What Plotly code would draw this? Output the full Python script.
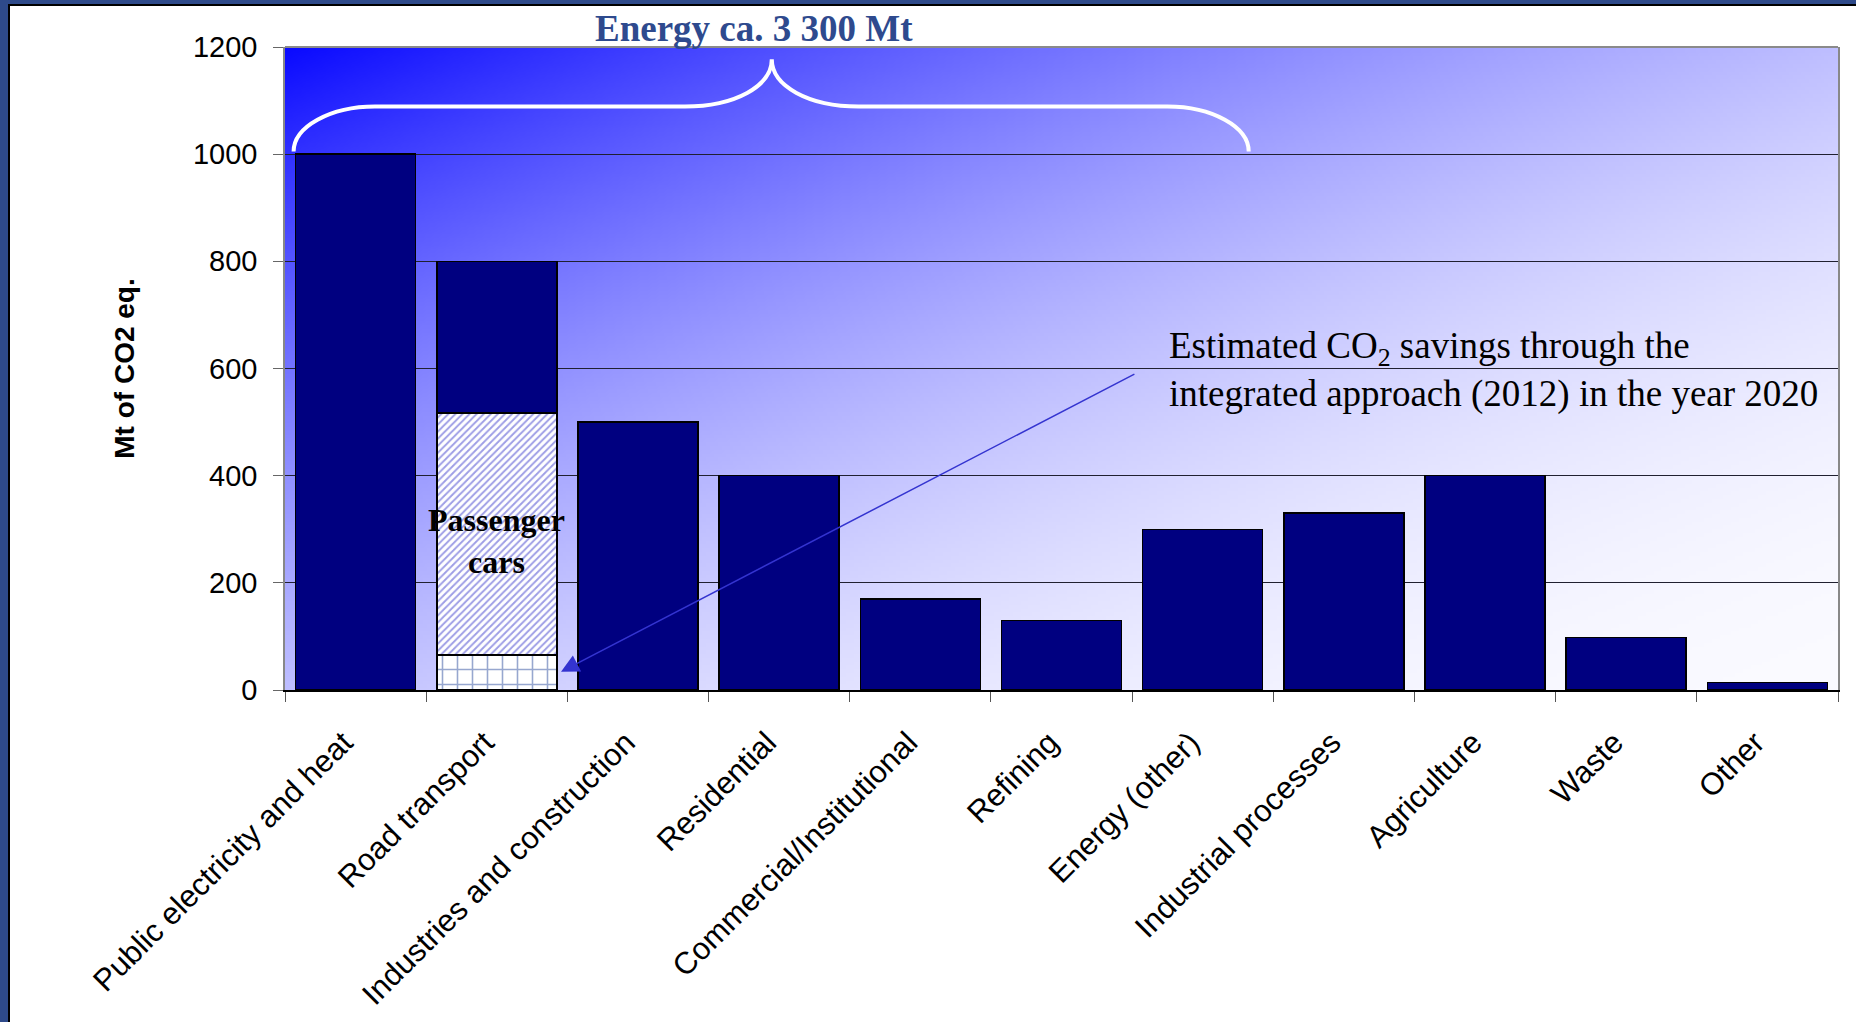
import base64
import struct
import zlib

import plotly.graph_objects as go

# --- data -------------------------------------------------------------------
categories = [
    "Public electricity and heat",
    "Road transport",
    "Industries and construction",
    "Residential",
    "Commercial/Institutional",
    "Refining",
    "Energy (other)",
    "Industrial processes",
    "Agriculture",
    "Waste",
    "Other",
]
emissions = [1000, 800, 500, 400, 170, 130, 300, 330, 400, 98, 14]  # Mt CO2 eq.
passenger_cars = 517          # part of road transport (includes the savings block)
co2_savings_2020 = 65         # estimated savings of the integrated approach
y_ticks = [0, 200, 400, 600, 800, 1000, 1200]

road = categories.index("Road transport")
upper_values = list(emissions)
upper_values[road] = emissions[road] - passenger_cars

# --- page geometry ------------------------------------------------------------
W, H = 1856, 1022
M_L, M_R, M_T, M_B = 285, 18, 47, 332
PW, PH = W - M_L - M_R, H - M_T - M_B


def px_x(px):
    return (px - M_L) / PW


def px_y(py):
    return 1 - (py - M_T) / PH


# --- diagonal blue-to-white plot background as an inline PNG -----------------
def gradient_png(w, h):
    raw = bytearray()
    for j in range(h):
        raw.append(0)
        v = j / (h - 1)
        for i in range(w):
            u = i / (w - 1)
            t = (u + v) / 2
            c = int(round(10 + 240 * (1 - (1 - t) ** 2)))
            raw.extend((c, c, 255))

    def chunk(tag, data):
        body = tag + data
        return struct.pack(">I", len(data)) + body + struct.pack(">I", zlib.crc32(body) & 0xFFFFFFFF)

    png = (b"\x89PNG\r\n\x1a\n"
           + chunk(b"IHDR", struct.pack(">IIBBBBB", w, h, 8, 2, 0, 0, 0))
           + chunk(b"IDAT", zlib.compress(bytes(raw), 9))
           + chunk(b"IEND", b""))
    return "data:image/png;base64," + base64.b64encode(png).decode()


NAVY = "#000080"
OUTLINE = dict(color="black", width=1.5)

fig = go.Figure()
fig.add_trace(go.Bar(
    x=[categories[road]], y=[co2_savings_2020],
    marker=dict(color="white", line=OUTLINE,
                pattern=dict(shape="+", fgcolor="#2F4F9F", bgcolor="white", size=15, solidity=0.2)),
))
fig.add_trace(go.Bar(
    x=[categories[road]], y=[passenger_cars - co2_savings_2020],
    marker=dict(color="white", line=OUTLINE,
                pattern=dict(shape="/", fgcolor="#3C3CCC", bgcolor="white", size=5, solidity=0.38)),
))
fig.add_trace(go.Bar(
    x=categories, y=upper_values,
    marker=dict(color=NAVY, line=OUTLINE),
))

# white curly brace over the energy sectors (category-index / data units)
brace = ("M -0.439,1005 C -0.439,1051 -0.180,1089 0.1375,1089 "
         "L 2.333,1089 C 2.687,1089 2.948,1127 2.948,1177 "
         "C 2.948,1127 3.209,1089 3.563,1089 "
         "L 5.750,1089 C 6.067,1089 6.326,1051 6.326,1005")

frame_blue = "#2E4A8A"
shapes = [
    dict(type="path", xref="x", yref="y", path=brace, line=dict(color="white", width=4)),
    dict(type="line", xref="paper", yref="paper", x0=0, x1=1, y0=1, y1=1,
         line=dict(color="#8A8A8A", width=2)),
    # slide frame: blue strip with a dark rule on the left and top
    dict(type="rect", xref="paper", yref="paper", x0=px_x(0), x1=px_x(8), y0=px_y(H), y1=px_y(0),
         fillcolor=frame_blue, line=dict(width=0), layer="above"),
    dict(type="rect", xref="paper", yref="paper", x0=px_x(8), x1=px_x(10), y0=px_y(H), y1=px_y(4),
         fillcolor="black", line=dict(width=0), layer="above"),
    dict(type="rect", xref="paper", yref="paper", x0=px_x(0), x1=px_x(W), y0=px_y(4), y1=px_y(0),
         fillcolor=frame_blue, line=dict(width=0), layer="above"),
    dict(type="rect", xref="paper", yref="paper", x0=px_x(8), x1=px_x(W), y0=px_y(6), y1=px_y(4),
         fillcolor="black", line=dict(width=0), layer="above"),
]

serif = "Liberation Serif, Times New Roman, serif"
sans = "Liberation Sans, Arial, sans-serif"

annotations = [
    dict(xref="paper", yref="paper", x=px_x(754), y=px_y(28), xanchor="center", yanchor="middle",
         text="<b>Energy ca. 3 300 Mt</b>", showarrow=False,
         font=dict(family=serif, size=37, color="#2E4A8E")),
    dict(xref="x", yref="y", x=categories[road], y=278, text="<b>Passenger<br>cars</b>",
         showarrow=False, font=dict(family=serif, size=32, color="black")),
    dict(xref="x", yref="y", x=1.455, y=34, axref="x", ayref="y", ax=5.527, ay=591,
         text="", showarrow=True, arrowhead=2, arrowsize=2.4, arrowwidth=1.5,
         arrowcolor="#3434D0"),
    dict(xref="paper", yref="y", x=px_x(1167), y=597, xanchor="left", yanchor="middle",
         align="left", showarrow=False,
         text="Estimated CO<sub>2</sub> savings through the<br>integrated approach (2012) in the year 2020",
         font=dict(family=serif, size=37, color="black")),
]

fig.update_layout(
    width=W, height=H,
    margin=dict(l=M_L, r=M_R, t=M_T, b=M_B),
    paper_bgcolor="white",
    plot_bgcolor="rgba(0,0,0,0)",
    barmode="stack",
    bargap=0.15,
    showlegend=False,
    shapes=shapes,
    annotations=annotations,
    images=[dict(source=gradient_png(400, 170), xref="paper", yref="paper",
                 x=0, y=1, sizex=1, sizey=1, xanchor="left", yanchor="top",
                 sizing="stretch", layer="below")],
    xaxis=dict(
        type="category", categoryorder="array", categoryarray=categories,
        range=[-0.5, len(categories) - 0.5], automargin=False,
        tickson="boundaries", ticks="outside", ticklen=10, tickwidth=1, tickcolor="#555",
        tickangle=-45, ticklabelstandoff=20, ticklabelshift=-12,
        tickfont=dict(family=sans, size=31, color="black"),
        showline=True, linecolor="black", linewidth=2, showgrid=False,
    ),
    yaxis=dict(
        range=[0, 1200], tickvals=y_ticks, ticktext=[str(v) for v in y_ticks],
        automargin=False,
        ticks="outside", ticklen=10, tickwidth=1, tickcolor="#666",
        ticklabelstandoff=10,
        tickfont=dict(family=sans, size=29, color="black"),
        showline=True, linecolor="#888", linewidth=1.5, mirror=True,
        showgrid=True, gridcolor="#202030", gridwidth=1, zeroline=False,
        title=dict(text="<b>Mt of CO2 eq.</b>", standoff=50,
                   font=dict(family=sans, size=28, color="black")),
    ),
)

fig.write_html("out.html")
